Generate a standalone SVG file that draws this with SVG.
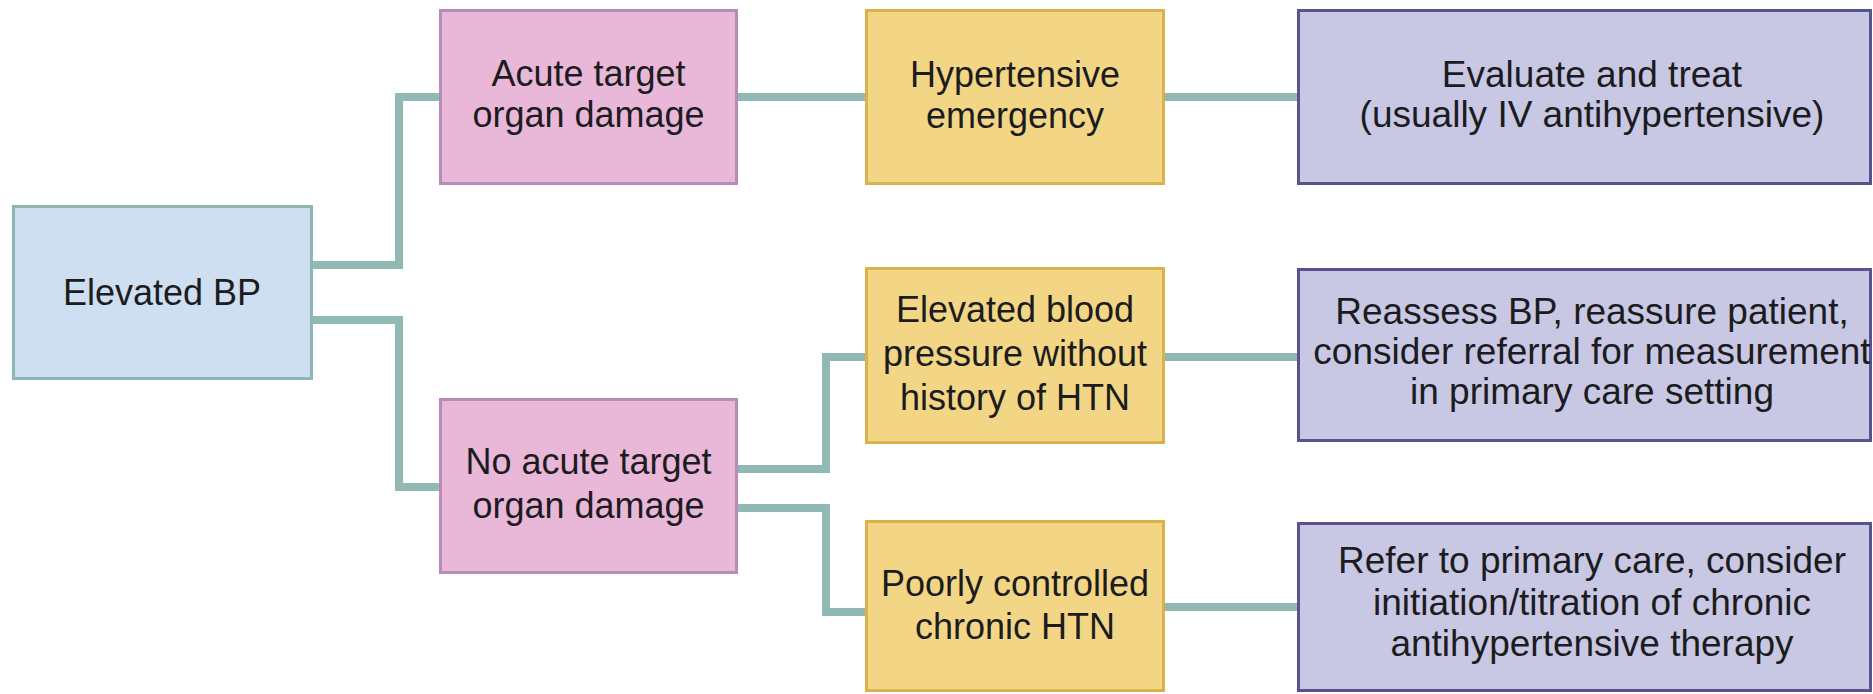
<svg xmlns="http://www.w3.org/2000/svg" width="1873" height="694" viewBox="0 0 1873 694">
  <style>
    .lbl { font-family: "Liberation Sans", Arial, Helvetica, sans-serif; font-size: 36px; fill: #1c1c1e; text-anchor: middle; }
    .lbl.big { font-size: 37px; }
    .start { fill: #cddff0; stroke: #8fb7b2; stroke-width: 3; }
    .branch { fill: #e9b7d8; stroke: #b58cba; stroke-width: 3; }
    .state { fill: #f2d685; stroke: #d9b24c; stroke-width: 3; }
    .action { fill: #c8c8e4; stroke: #57538d; stroke-width: 3; }
    .link { fill: none; stroke: #91b9b4; stroke-width: 8; stroke-linejoin: miter; stroke-linecap: butt; }
  </style>
  <rect width="1873" height="694" fill="#ffffff"/>

  <g id="connectors">
    <path class="link" d="M313 265 H399 V97 H440"/>
    <path class="link" d="M313 320 H399 V487 H440"/>
    <path class="link" d="M738 97 H866"/>
    <path class="link" d="M1165 97 H1298"/>
    <path class="link" d="M738 469 H826 V357 H866"/>
    <path class="link" d="M738 508 H826 V612 H866"/>
    <path class="link" d="M1165 357 H1298"/>
    <path class="link" d="M1165 607 H1298"/>
  </g>

  <g id="elevated-bp">
    <rect class="start" x="13.5" y="206.5" width="298" height="172"/>
    <text class="lbl" x="162" y="305">Elevated BP</text>
  </g>

  <g id="acute-damage">
    <rect class="branch" x="440.5" y="10.5" width="296" height="173"/>
    <text class="lbl" x="588.5" y="86">Acute target</text>
    <text class="lbl" x="588.5" y="127">organ damage</text>
  </g>

  <g id="no-acute-damage">
    <rect class="branch" x="440.5" y="399.5" width="296" height="173"/>
    <text class="lbl" x="588.5" y="474">No acute target</text>
    <text class="lbl" x="588.5" y="518">organ damage</text>
  </g>

  <g id="hypertensive-emergency">
    <rect class="state" x="866.5" y="10.5" width="297" height="173"/>
    <text class="lbl" x="1015" y="87">Hypertensive</text>
    <text class="lbl" x="1015" y="128">emergency</text>
  </g>

  <g id="elevated-no-history">
    <rect class="state" x="866.5" y="268.5" width="297" height="174"/>
    <text class="lbl" x="1015" y="322">Elevated blood</text>
    <text class="lbl" x="1015" y="366">pressure without</text>
    <text class="lbl" x="1015" y="410">history of HTN</text>
  </g>

  <g id="poorly-controlled">
    <rect class="state" x="866.5" y="521.5" width="297" height="169"/>
    <text class="lbl" x="1015" y="596">Poorly controlled</text>
    <text class="lbl" x="1015" y="639">chronic HTN</text>
  </g>

  <g id="evaluate-treat">
    <rect class="action" x="1298.5" y="10.5" width="572" height="173"/>
    <text class="lbl big" x="1592" y="87">Evaluate and treat</text>
    <text class="lbl big" x="1592" y="127">(usually IV antihypertensive)</text>
  </g>

  <g id="reassess">
    <rect class="action" x="1298.5" y="269.5" width="572" height="171"/>
    <text class="lbl big" x="1592" y="324">Reassess BP, reassure patient,</text>
    <text class="lbl big" x="1592" y="364">consider referral for measurement</text>
    <text class="lbl big" x="1592" y="404">in primary care setting</text>
  </g>

  <g id="refer-primary-care">
    <rect class="action" x="1298.5" y="523.5" width="572" height="167"/>
    <text class="lbl big" x="1592" y="573">Refer to primary care, consider</text>
    <text class="lbl big" x="1592" y="615">initiation/titration of chronic</text>
    <text class="lbl big" x="1592" y="656">antihypertensive therapy</text>
  </g>
</svg>
